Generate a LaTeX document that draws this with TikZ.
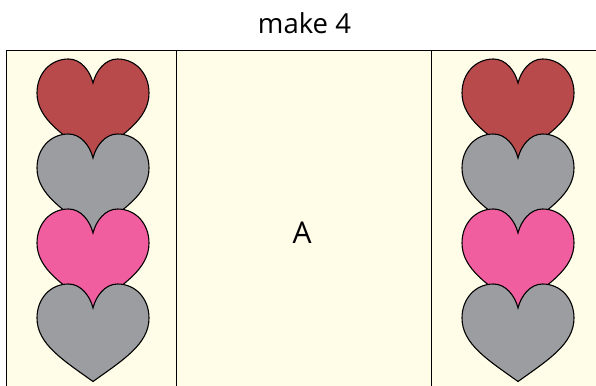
\documentclass[tikz,border=0pt]{standalone}
\usepackage{fontspec}
\setmainfont{Open Sans}
\definecolor{cream}{HTML}{FFFCE8}
\definecolor{hred}{HTML}{B94A4C}
\definecolor{hgray}{HTML}{9C9DA0}
\definecolor{hpink}{HTML}{F15EA0}
\tikzset{
  panel/.style={draw=black,line width=1.1pt,fill=cream},
  lbl/.style={inner sep=0pt,text=black},
  pics/hrt/.style={code={
    \path[draw=black,line width=1.1pt,line join=miter,fill=#1]
      (0,-24) .. controls (-3,-12) and (-12,0) .. (-24.5,0)
      .. controls (-43,0) and (-56,-15) .. (-56,-34)
      .. controls (-56,-60) and (-30,-76) .. (0,-97.5)
      .. controls (30,-76) and (56,-60) .. (56,-34)
      .. controls (56,-15) and (43,0) .. (24.5,0)
      .. controls (12,0) and (3,-12) .. (0,-24) -- cycle;
  }}
}
\begin{document}
\begin{tikzpicture}[x=1pt,y=1pt]
\useasboundingbox (0,0) rectangle (596,-385);
\fill[white] (0,0) rectangle (596,-385);
\path[panel] (6.5,-50.5) rectangle (176.5,-390);
\path[panel] (176.5,-50.5) rectangle (431.5,-390);
\path[panel] (431.5,-50.5) rectangle (600,-390);
\foreach \cx in {93,518}{
  \pic at (\cx,-59) {hrt=hred};
  \pic at (\cx,-134) {hrt=hgray};
  \pic at (\cx,-209) {hrt=hpink};
  \pic at (\cx,-284) {hrt=hgray};
}
\node[lbl,font=\fontsize{27.5}{32}\selectfont,anchor=base] (title) at (304.5,-34) {make 4};
\node[lbl,font=\fontsize{30}{34}\selectfont,anchor=base] (letter) at (302,-243) {A};
\end{tikzpicture}
\end{document}
